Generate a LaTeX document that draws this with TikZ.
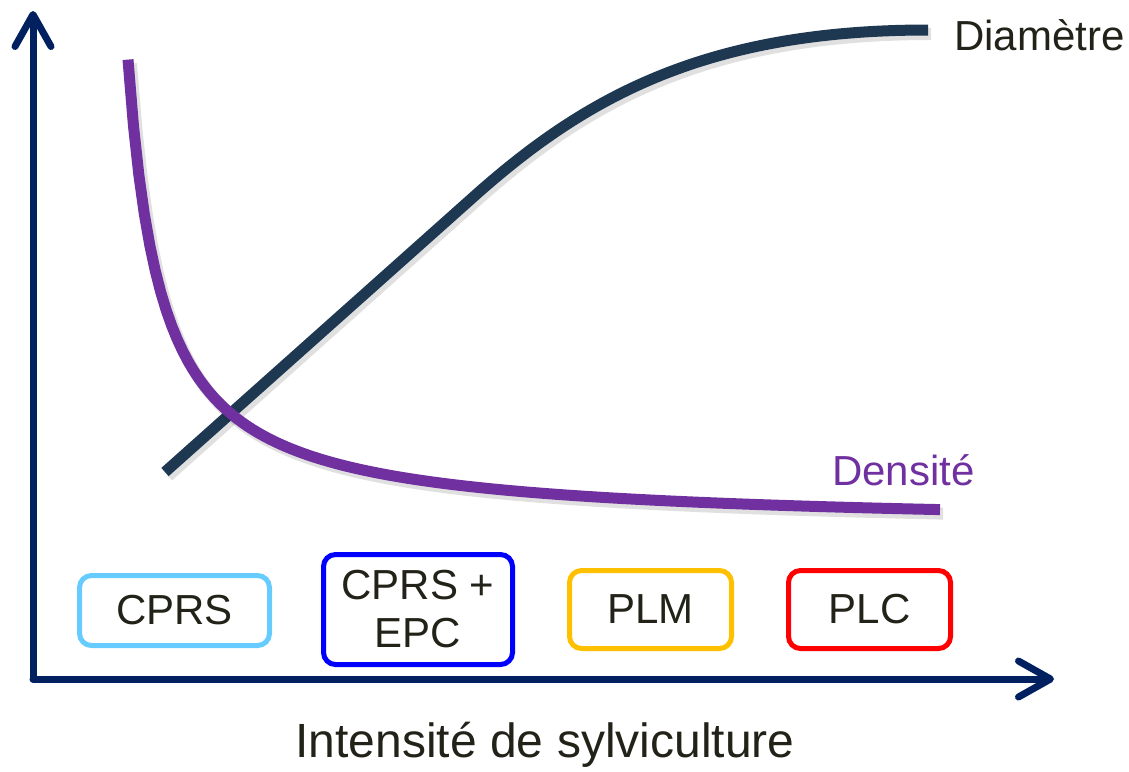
\documentclass[tikz,border=0pt]{standalone}
\usepackage{fontspec}
\setmainfont{Liberation Sans}
\usetikzlibrary{arrows.meta}

\definecolor{axisblue}{HTML}{002060}
\definecolor{diamblue}{HTML}{1F3852}
\definecolor{denspurple}{HTML}{7030A0}
\definecolor{textdark}{HTML}{222218}
\definecolor{cprsblue}{HTML}{66CCFF}
\definecolor{epcblue}{HTML}{0000FF}
\definecolor{plmgold}{HTML}{FFC000}
\definecolor{plcred}{HTML}{FF0000}

\begin{document}
\begin{tikzpicture}[x=0.5pt,y=-0.5pt,
	axis/.style={line width=3.5pt, draw=axisblue, line cap=round,
		-{Straight Barb[length=16pt,width=18pt,round]}},
	curve/.style={line width=5.5pt},
	shade/.style={line width=6pt, draw=black, opacity=0.12, shift={(3,4)}},
	box/.style={draw, line width=2.5pt, rounded corners=6pt, text=textdark,
		align=center, font=\fontsize{21}{24}\selectfont, inner sep=0pt},
	label/.style={font=\fontsize{21}{24}\selectfont, anchor=west}]
	\useasboundingbox (0,0) rectangle (1129,771);

	% axes
	\coordinate (origin) at (33,679);
	\coordinate (ytop) at (33,11);
	\coordinate (xend) at (1054,679);
	\draw[axis] (origin) -- (ytop);
	\draw[axis] (origin) -- (xend);
	\node[font=\fontsize{24}{28}\selectfont, text=textdark] (xlabel) at (545,745) {Intensité de sylviculture};

	% diametre
	\draw[shade] (165,472) -- (470,200) .. controls (580,101) and (700,30) .. (928,30);
	\draw[curve, draw=diamblue] (165,472) -- (470,200) .. controls (580,101) and (700,30) .. (928,30);
	\node[label, text=textdark] (diam) at (947,35) {Diamètre};

	% densite
	\draw[shade] plot[domain=128:940, samples=150] (\x, {528-15551/(\x-94.8)});
	\draw[curve, draw=denspurple] plot[domain=128:940, samples=150] (\x, {528-15551/(\x-94.8)});
	\node[label, text=denspurple] (dens) at (825,470) {Densité};

	% traitements
	\node[box, draw=cprsblue, minimum width=95pt, minimum height=35pt] (cprs) at (174.5,610.5) {CPRS};
	\node[box, draw=epcblue, minimum width=94.5pt, minimum height=55pt] (epc) at (418,609.5) {CPRS +\\EPC};
	\node[box, draw=plmgold, minimum width=81pt, minimum height=39pt] (plm) at (650.5,609.5) {PLM};
	\node[box, draw=plcred, minimum width=81pt, minimum height=39pt] (plc) at (869.5,609.5) {PLC};
\end{tikzpicture}
\end{document}
